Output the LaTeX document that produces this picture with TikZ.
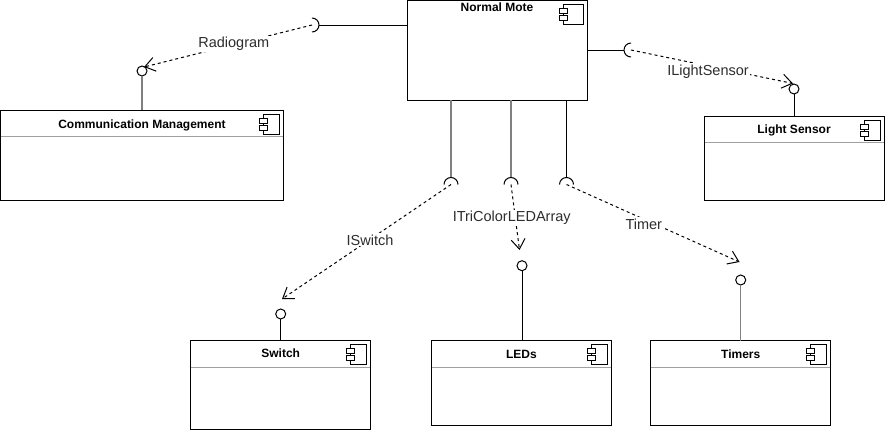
\documentclass[tikz,border=0pt]{standalone}
\usepackage{fontspec}
\setmainfont{Liberation Sans}
\usetikzlibrary{arrows.meta,calc}
\definecolor{stemgray}{RGB}{128,128,128}
\definecolor{sepgray}{RGB}{160,160,160}
\definecolor{labeltext}{RGB}{45,45,45}
\newcommand\compicon[2]{%
  \draw[iconline] ($(#1.north east)+(-4-#2,4)$) rectangle ($(#1.north east)+(-4,24)$);
  \draw[iconline] ($(#1.north east)+(-8-#2,8)$) rectangle ($(#1.north east)+(-#2,13)$);
  \draw[iconline] ($(#1.north east)+(-8-#2,15)$) rectangle ($(#1.north east)+(-#2,20)$);
}
\newcommand\compsep[1]{%
  \draw[sepline] ($(#1.north west)+(0.5,26.5)$) -- ($(#1.north east)+(-0.5,26.5)$);
}
\begin{document}
\begin{tikzpicture}[x=1pt,y=-1pt,
  comp/.style={rectangle, draw, line width=1pt, fill=white, inner sep=0pt, outer sep=0pt, anchor=north west},
  ctitle/.style={font=\bfseries\fontsize{12}{14}\selectfont, inner sep=0pt, anchor=base},
  sepline/.style={draw=sepgray, line width=1pt},
  iconline/.style={draw=black, line width=0.9pt, fill=white},
  stem/.style={line width=1pt, black},
  graystem/.style={line width=1.4pt, stemgray},
  socket/.style={line width=1pt, black},
  lolli/.style={circle, draw, line width=1pt, fill=white, minimum size=10pt, inner sep=0pt, outer sep=0pt},
  dep/.style={line width=1pt, dash pattern=on 3pt off 3pt, -{Straight Barb[length=10pt,width=14pt]}},
  lbl/.style={font=\fontsize{14.5}{16}\selectfont, text=labeltext, fill=white, inner sep=1pt, anchor=base},
]
\useasboundingbox (0,0) rectangle (885,431);

% component boxes
\node[comp, minimum width=180pt, minimum height=99.5pt] (nm) at (407,0.5) {};
\node[comp, minimum width=283pt, minimum height=90pt] (cm) at (0.5,110) {};
\node[comp, minimum width=180pt, minimum height=84pt] (ls) at (704,116) {};
\node[comp, minimum width=180pt, minimum height=89pt] (sw) at (190.7,340.7) {};
\node[comp, minimum width=179.3pt, minimum height=85pt] (led) at (431.7,340.5) {};
\node[comp, minimum width=180pt, minimum height=85pt] (tim) at (650.7,340.5) {};

% titles
\node[ctitle] (nmt) at ($(nm.north)+(0,11)$) {Normal Mote};
\node[ctitle] (cmt) at ($(cm.north)+(0,18)$) {Communication Management};
\node[ctitle] (lst) at ($(ls.north)+(0,17.3)$) {Light Sensor};
\node[ctitle] (swt) at ($(sw.north)+(0,16.8)$) {Switch};
\node[ctitle] (ledt) at ($(led.north)+(0,18)$) {LEDs};
\node[ctitle] (timt) at ($(tim.north)+(0,18)$) {Timers};

% separators
\compsep{cm}
\compsep{ls}
\compsep{sw}
\compsep{led}
\compsep{tim}

% icons
\compicon{nm}{20}
\compicon{cm}{16}
\compicon{ls}{16}
\compicon{sw}{16}
\compicon{led}{16}
\compicon{tim}{16}

% sockets (required interfaces)
\coordinate (sk1) at (451,184.5);
\coordinate (sk2) at (511,184.5);
\coordinate (sk3) at (566.5,184.5);
\coordinate (skL) at (312,25);
\coordinate (skR) at (631,50);

\draw[graystem] (nm.south -| sk1) -- ($(sk1)+(0,-7)$);
\draw[graystem] (nm.south -| sk2) -- ($(sk2)+(0,-7)$);
\draw[stem] (nm.south -| sk3) -- ($(sk3)+(0,-7)$);
\draw[stem] (nm.west |- skL) -- ($(skL)+(7,0)$);
\draw[stem] (nm.east |- skR) -- ($(skR)+(-7,0)$);

\draw[socket] ($(sk1)+(7,0)$) arc[start angle=0, end angle=180, radius=7pt];
\draw[socket] ($(sk2)+(7,0)$) arc[start angle=0, end angle=180, radius=7pt];
\draw[socket] ($(sk3)+(7,0)$) arc[start angle=0, end angle=180, radius=7pt];
\draw[socket] ($(skL)+(0,-7)$) arc[start angle=90, end angle=-90, radius=7pt];
\draw[socket] ($(skR)+(0,-7)$) arc[start angle=90, end angle=270, radius=7pt];

% lollipops (provided interfaces)
\node[lolli] (lc) at (142,71) {};
\node[lolli] (ll) at (794,89) {};
\node[lolli] (lsw) at (280.7,314) {};
\node[lolli] (lled) at (522,265.7) {};
\node[lolli] (ltim) at (740.7,280) {};

\draw[graystem] (lc.south) -- (lc.south |- cm.north);
\draw[stem] (ll.south) -- (ll.south |- ls.north);
\draw[stem] (lsw.south) -- (lsw.south |- sw.north);
\draw[stem] (lled.south) -- (lled.south |- led.north);
\draw[graystem] (ltim.south) -- (ltim.south |- tim.north);

% dependency tips
\coordinate (tR) at (144,67);
\coordinate (tL) at (793,83.5);
\coordinate (tS) at (282,299);
\coordinate (tE) at (519.5,250);
\coordinate (tT) at (739.5,262);

\draw[dep] (skL) -- (tR);
\draw[dep] (skR) -- (tL);
\draw[dep] (sk1) -- (tS);
\draw[dep] (sk2) -- (tE);
\draw[dep] (sk3) -- (tT);

% labels
\node[lbl] (lbR) at (233.8,47.7) {Radiogram};
\node[lbl] (lbL) at (708,75) {ILightSensor};
\node[lbl] (lbS) at (370,245) {ISwitch};
\node[lbl] (lbE) at (511.7,221.7) {ITriColorLEDArray};
\node[lbl] (lbT) at (643.8,229) {Timer};
\end{tikzpicture}
\end{document}
